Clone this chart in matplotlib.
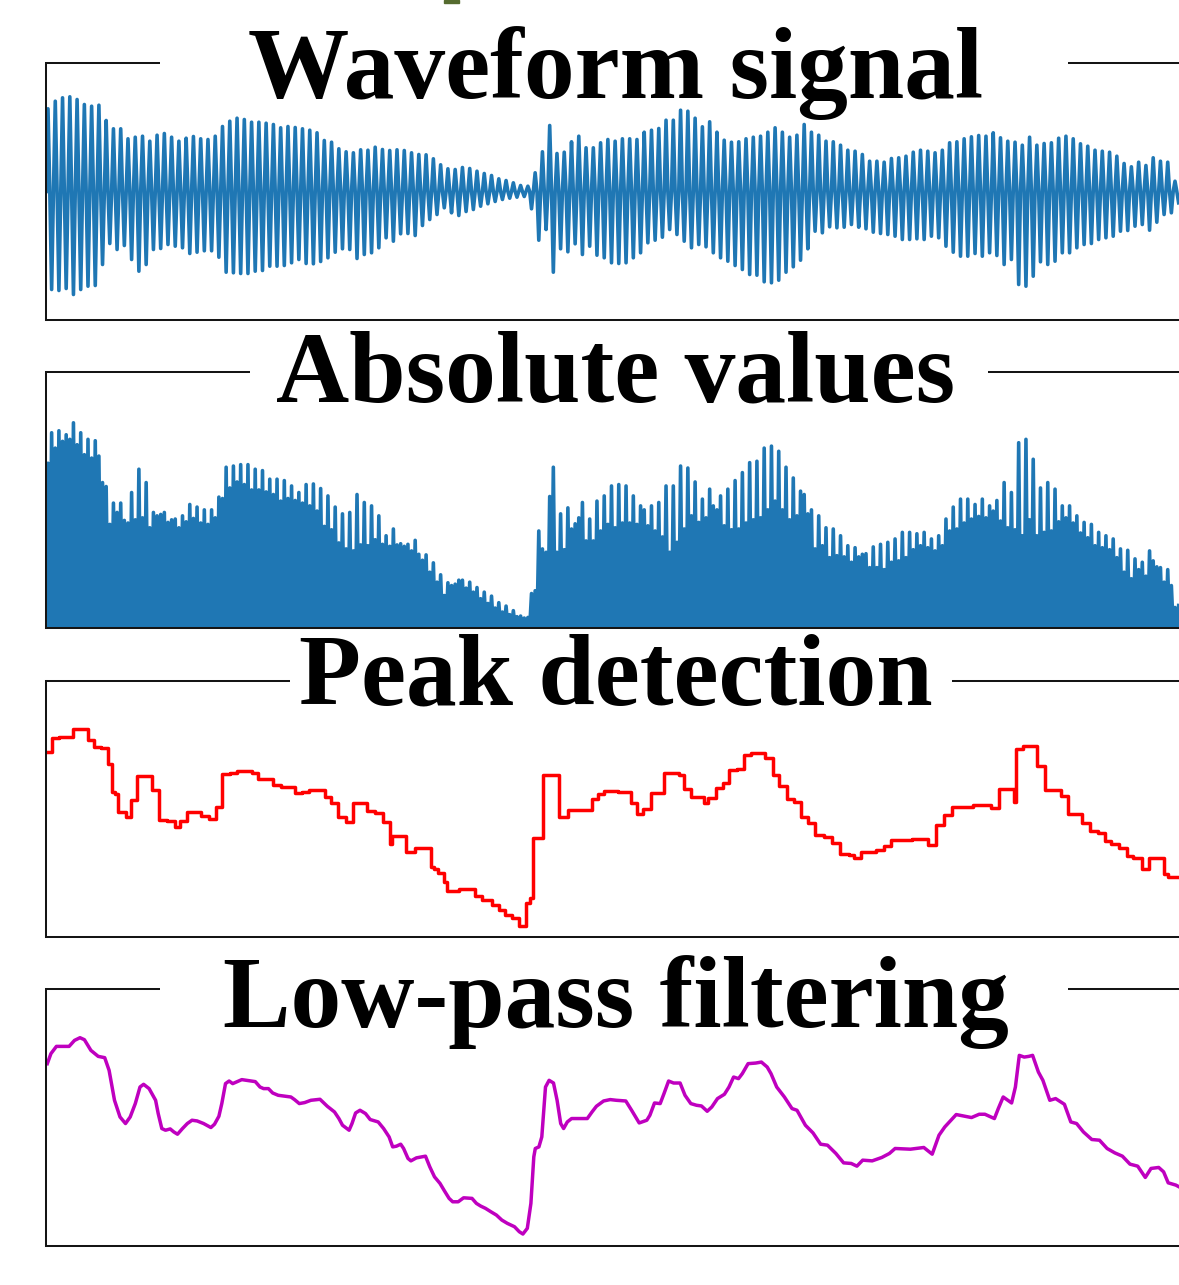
import numpy as np
import matplotlib
matplotlib.use("Agg")
import matplotlib.pyplot as plt
from matplotlib.patches import Rectangle

# ---------------- data ----------------
titles = ["Waveform signal", "Absolute values", "Peak detection", "Low-pass filtering"]

# positive / negative peak of every pitch cycle of the waveform
wave_pos = [82.7, 90.3, 93.7, 94.7, 92, 87, 85.3, 86.3, 71, 62.7, 62.7, 52.7, 54.3, 55.3, 50.3, 56.3,
            58, 54.3, 50.3, 53.3, 55, 52.7, 52, 55.3, 65, 70.3, 73.3, 72, 69.3, 69.3, 68.3, 67, 63.7,
            65, 64, 62.7, 61.3, 58.7, 51, 49.3,
            42.7, 39.7, 38.7, 41.7, 41.3, 44.3, 42, 41, 41.7, 41, 38.7, 37, 36.7, 32.7, 26.7, 22.7,
            22, 24, 23, 20.3, 18, 16, 12.7, 11, 8.7, 6, 5.3, 18.7, 39.7, 66, 38, 39.3, 49.7, 55.3,
            43.7, 43.7, 48.7, 52, 50.3,
            52.7, 52.7, 52, 59.3, 61.3, 63, 71.3, 71.3, 81.3, 80.3, 73.3, 64.7, 69.7, 59.3, 51.3,
            49.3, 49.7, 52.7, 54.3, 55.3, 59.3, 63.7, 59.3, 54.3, 56.3, 67, 59.3, 56.3, 50.3, 49.7,
            46.3, 41.3, 40.3, 37, 30.3, 30.3, 29.3, 33, 33.7,
            35.3, 39.3, 41.3, 40.3, 38.7, 41.3, 48.7, 49.7, 52.7, 54.7, 56, 55.3, 58.7, 53.7, 50.3,
            49.3, 46.3, 54.3, 46.3, 48, 48.7, 53.3, 55.3, 52.7, 47.7, 45.3, 41.3, 40.3, 39.3, 35.3,
            28, 24.7, 29.3, 26, 33.7, 30.3, 29.3, 10.3]
wave_neg = [98, 99, 97, 103, 98, 94.7, 94, 73, 52, 58, 54, 68, 79.7, 73, 58, 57, 53, 54.7, 56.3, 62,
            60.7, 59.3, 59.3, 65.7, 80.7, 81.3, 82, 82, 79.7, 79, 74.7, 74.7, 74, 71.3, 68, 72, 72.3,
            70, 66.3, 60.7,
            57.3, 58, 67, 63, 61.3, 56.3, 46.3, 49.7, 42.3, 42, 44, 34, 28, 23, 16.3, 21.3, 24, 20,
            18, 14.7, 12.3, 10, 8, 6.7, 5.7, 5, 17.3, 48.7, 38, 80.7, 57.3, 60.3, 52.3, 63, 54.7,
            63.7, 66.3, 71.3, 72,
            71.3, 66.3, 61.3, 51.3, 48.7, 45.7, 38, 43, 49.7, 56.3, 53, 55.3, 61.3, 66.3, 69.7, 74,
            78, 83, 83.7, 90.3, 91.3, 88.7, 80.7, 75.3, 68.7, 57.3, 39.7, 41.3, 35.3, 36.3, 35.7,
            33, 35.7, 37.3, 40.7, 42, 43, 44.7, 48,
            48, 47.3, 48, 44.7, 46.3, 54.7, 60.7, 64.7, 64.7, 62, 64.7, 61.3, 64, 73, 68, 93, 94.7,
            84.7, 70.3, 73, 69.7, 61.3, 61.3, 56.3, 53, 52, 48, 46.3, 44.7, 39.7, 39, 34.7, 33,
            38.7, 30.7, 23, 21.3, 11.3]

# peak detection: step start times and values
peak_t = [0.7, 5.7, 13.3, 26.7, 42, 47.8, 55.4, 62.3, 65.7, 68.8, 71.5, 79.5, 85.3, 91, 106.3,
          112.8, 120.5, 129.3, 133.9, 140.8, 154.9, 162.6, 169.5, 176, 183.6, 191.3, 205.8, 212.3,
          226.9, 234.5, 249.4, 255.6, 263.2, 278.5, 285, 291.9, 299.6, 306.9, 321.4, 329, 336.7,
          343.6, 346.3, 359.7, 369.2, 384.5, 388.4, 392.2, 398, 401, 413.3, 428.6, 436.2, 445.8,
          453.4, 459.2, 466, 472.6, 480.2, 484, 486.7, 496.7, 512.7, 521.5, 545.5, 552.3, 557.7,
          572.2, 584.8, 590.5, 597, 604.7, 618, 632.5, 637.9, 644.8, 658.1, 662, 669.6, 676.5,
          683, 690.6, 698.2, 705.1, 719.3, 726.9, 733.4, 741, 747.9, 754.8, 762, 768.9, 777.7,
          786.1, 793.7, 803.3, 808.2, 814.7, 830, 837.7, 845.3, 866.3, 881.6, 890, 897.6, 906.4,
          927.4, 944.6, 953.4, 967.5, 969.5, 977.1, 990.5, 999.2, 1014.5, 1022.1, 1036.3, 1043.9,
          1051.6, 1058.5, 1064.9, 1072.6, 1081, 1087.1, 1095.5, 1103.1, 1117.7, 1122.2, 1140]
peak_v = [92.8, 99.5, 100.3, 104, 98.7, 95.3, 94.5, 86.7, 72.8, 71.7, 62.8, 60.3, 68.7, 80.7, 73.7,
          58.7, 58.2, 55, 58.2, 62.7, 60.7, 59.3, 65, 81.7, 82, 83.2, 82.3, 79.2, 76, 75.3, 72,
          72.8, 73.7, 70.3, 67, 60.3, 57.8, 67.3, 63.2, 62.3, 57.5, 46.5, 50.7, 42.7, 44.5, 35.3,
          34, 32, 27.8, 22.8, 24, 20.3, 18.3, 16.2, 13.3, 11.2, 9.5, 5.7, 17, 19.5, 49.5, 81.2,
          60, 63.5, 69, 71.7, 73.2, 72.7, 67.3, 61.7, 64, 72, 82, 81.2, 74, 70.3, 67, 69.5, 74.5,
          77, 83.7, 84.2, 91.2, 92, 89.5, 81.2, 75.7, 69, 67.8, 60, 57, 51.2, 50.3, 47, 41.7,
          41.2, 39.8, 42.8, 43.7, 45.7, 48.7, 49.2, 46.2, 56, 61.2, 65.3, 66, 64.5, 74, 67.8,
          94.3, 95.6, 85.7, 73.7, 70.7, 61.7, 57, 53.2, 52.3, 48.3, 46.7, 44.5, 40.7, 39.8, 34,
          39.5, 31.7, 30, 30]

# low-pass filtered envelope
lp_t = [1.3, 4.9, 10.4, 23.1, 28.5, 34, 38.4, 44.9, 52.2, 58.7, 63.1, 68.5, 74, 79.5, 84.2, 89.3,
        94, 97.6, 103.1, 109.6, 112.2, 115.8, 119.5, 124.2, 127.8, 131.5, 136.5, 141.3, 146,
        151.1, 157.6, 164.9, 168.5, 172.9, 175.8, 179.5, 183.1, 186.7, 195.8, 209.3, 214, 217.6,
        222.4, 226.7, 232.2, 244.9, 248.5, 253.3, 258.7, 264.9, 274, 281.3, 288.5, 292.9, 296.5,
        303.1, 306, 309.6, 314, 319.5, 324.2, 332.2, 337.6, 343.1, 346.7, 350.4, 354.7, 357.6,
        362, 364.9, 370.4, 379.5, 383.8, 388.5, 394, 398.4, 403.1, 406.7, 412.2, 417.6, 426,
        430.4, 434.7, 439.5, 444.9, 450.4, 455.8, 461.3, 468.5, 473.3, 476.9, 481.3, 484.9,
        487.8, 489.3, 492.9, 495.8, 499.5, 503.1, 507.5, 511.1, 514.7, 517.6, 521.3, 525.6,
        541.3, 546, 550.4, 557.6, 564.2, 570.3, 579.8, 585.6, 593.2, 600.8, 603.9, 608.5, 614.2,
        618, 622.6, 627.6, 634.1, 639, 644.8, 650.5, 655.5, 661.2, 665.8, 671.5, 678.4, 683,
        687.6, 692.5, 696.3, 702.1, 709.7, 715.4, 721.2, 725, 730.7, 738.4, 746, 751, 759.4,
        767, 774.6, 781.5, 789.9, 797.6, 805.2, 810.9, 816.7, 826.2, 835.8, 843.4, 849.1, 864.4,
        877.8, 886.2, 893, 898.8, 910.2, 925.5, 933.2, 938.9, 948.4, 952.3, 957.2, 965.6, 969.4,
        973.3, 978.2, 982.8, 986.6, 992.4, 996.9, 1003.8, 1009.6, 1018.4, 1024.8, 1030.6,
        1037.4, 1045.8, 1053.5, 1061.1, 1068.8, 1076.4, 1084, 1091.7, 1099.3, 1105, 1112.7,
        1117.6, 1122.2, 1129.9, 1133]
lp_v = [91.1, 96.1, 99.75, 99.75, 102.75, 104.1, 103.1, 97.75, 94.75, 94.1, 87.75, 72.75, 64.4,
        61.1, 64.4, 71.1, 79.4, 80.75, 78.6, 72.75, 66.1, 58.6, 57.75, 58.4, 56.9, 55.75, 58.6,
        61.1, 62.75, 62.4, 61.1, 59.1, 60.75, 64.75, 71.1, 81.1, 82.4, 81.1, 83.1, 82.1, 79.4,
        78.6, 78.6, 76.4, 75.25, 74.4, 73.1, 71.1, 71.6, 72.75, 73.25, 69.75, 66.9, 63.6, 60.25,
        57.75, 61.1, 66.4, 67.75, 66.1, 63.1, 61.9, 58.6, 54.4, 49.4, 49.75, 50.75, 48.6, 43.6,
        42.4, 43.9, 44.75, 39.4, 34.4, 31.1, 27.4, 23.6, 21.9, 21.9, 23.9, 23.6, 21.1, 19.75,
        18.6, 16.9, 15.25, 12.75, 11.1, 9.4, 6.9, 5.75, 8.6, 21.1, 44.4, 48.6, 49.4, 54.4, 79.4,
        82.75, 81.4, 72.75, 61.1, 58.6, 61.9, 63.6, 63.6, 66.9, 69.75, 72.4, 73.1, 72.75, 72.4,
        67.75, 61.4, 62.75, 65.25, 71.4, 71.1, 76.1, 82.4, 81.4, 81.4, 75.25, 71.1, 70.25, 69.9,
        67.25, 69.4, 73.6, 75.75, 79.4, 84.4, 83.6, 86.1, 91.1, 91.4, 91.9, 89.4, 86.1, 79.4,
        74.4, 68.6, 67.75, 60.25, 56.4, 50.75, 50.25, 46.1, 41.4, 41.1, 39.75, 42.75, 42.4, 44.1,
        46.1, 48.6, 48.25, 49.1, 45.75, 55.25, 59.4, 65.6, 64.1, 65.75, 65.75, 63.6, 68.6, 74.4,
        71.4, 79.4, 95.25, 94.4, 94.75, 95.25, 86.9, 82.75, 72.75, 73.6, 70.75, 61.9, 61.1, 56.9,
        53.1, 52.75, 48.6, 46.4, 44.75, 40.75, 39.75, 34.1, 38.6, 39.1, 36.9, 31.4, 30.25, 29.4]

# ---------------- build waveform vertices ----------------
n = len(wave_pos)
period = 7.271
tc = 2.0 + period * np.arange(n)
q = period / 4.0
wave_t = np.column_stack([tc - q, tc, tc + q, tc + 2 * q]).ravel()
wave_y = np.column_stack([np.zeros(n), np.array(wave_pos), np.zeros(n),
                          -np.array(wave_neg)]).ravel()

# ---------------- layout ----------------
W_PX, H_PX = 1179, 1285
fig = plt.figure(figsize=(W_PX / 100, H_PX / 100), dpi=100)
fig.patch.set_facecolor("white")

left_px, right_px = 46, 1186
tops = [63, 372, 680.5, 989]
bottoms = [320, 628, 937, 1245.5]
baseline_off = [35, 29, 24.5, 38]
gaps = [(160, 1068), (250, 988), (290, 952), (160, 1068)]
YL = 128.5
XMAX = 1140
SPINE_C = "#151515"
SPINE_W = 1.45

axes = []
for k in range(4):
    t, b = tops[k], bottoms[k]
    ax = fig.add_axes([left_px / W_PX, 1 - b / H_PX, (right_px - left_px) / W_PX, (b - t) / H_PX])
    ax.set_xlim(0, XMAX)
    ax.set_xticks([])
    ax.set_yticks([])
    for s in ("top", "right"):
        ax.spines[s].set_visible(False)
    for s in ("left", "bottom"):
        ax.spines[s].set_linewidth(SPINE_W)
        ax.spines[s].set_color(SPINE_C)
    # broken top frame line around the title
    gl, gr = gaps[k]
    fl = (gl - left_px) / (right_px - left_px)
    fr = (gr - left_px) / (right_px - left_px)
    for x0, x1 in ((0, fl), (fr, 1)):
        ax.plot([x0, x1], [1, 1], transform=ax.transAxes, color=SPINE_C, lw=SPINE_W,
                clip_on=False, solid_capstyle="butt")
    ax.text(0.5, 1 - baseline_off[k] / (b - t), titles[k], transform=ax.transAxes,
            ha="center", va="baseline", fontsize=73, fontweight="bold",
            family=["Liberation Serif", "DejaVu Serif"], clip_on=False)
    axes.append(ax)

axes[0].plot(wave_t, wave_y, color="#1f77b4", lw=2.6)
axes[0].set_ylim(-YL, YL)

axes[1].plot(wave_t, np.abs(wave_y), color="#1f77b4", lw=2.6)
axes[1].set_ylim(0, YL)

axes[2].step(peak_t, peak_v, where="post", color="red", lw=2.5)
axes[2].set_ylim(0, YL)

axes[3].plot(lp_t, lp_v, color="m", lw=2.5)
axes[3].set_ylim(0, YL)

# small olive mark at top edge
fig.patches.append(Rectangle((444 / W_PX, 1 - 3 / H_PX), 15 / W_PX, 3 / H_PX,
                             transform=fig.transFigure, color="#556b2f"))

fig.savefig("out.png", dpi=100)
